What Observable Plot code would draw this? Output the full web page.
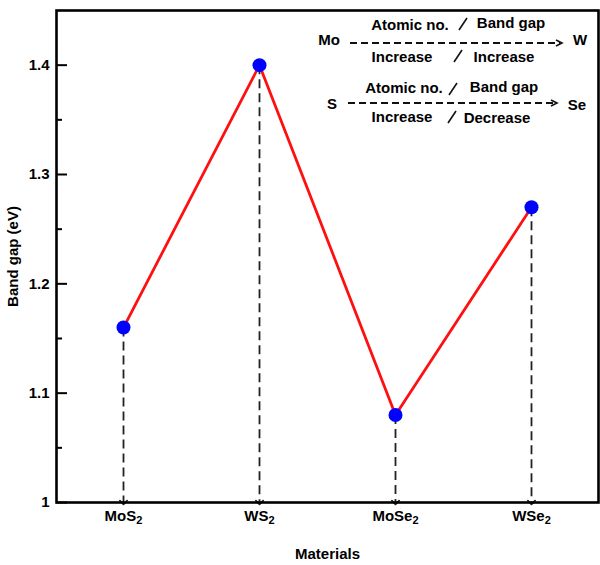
<!DOCTYPE html>
<html><head><meta charset="utf-8">
<script src="https://cdn.jsdelivr.net/npm/d3@7"></script>
<script src="https://cdn.jsdelivr.net/npm/@observablehq/plot@0.6"></script>
<style>
body{margin:0;background:#fff;}
#wrap{position:relative;width:600px;height:565px;}
#ann{position:absolute;left:0;top:0;pointer-events:none;}
</style></head><body><div id="wrap"></div>
<script>
const materials = ["MoS2","WS2","MoSe2","WSe2"];
const bandGap = [1.16,1.40,1.08,1.27];
const baseline = 1.0;
const majorTicks = [1,1.1,1.2,1.3,1.4];
const minorTicks = [1.05,1.15,1.25,1.35];
const yDomain = [1, 1.45];
const data = materials.map((m,i)=>({material:m, gap:bandGap[i]}));

const font = "'Liberation Sans', Arial, sans-serif";
const plot = Plot.plot({
  width:600, height:565, marginLeft:56, marginRight:2, marginTop:10, marginBottom:63,
  style:{fontFamily:font, fontSize:"15px", fontWeight:"bold", color:"#000", background:"#fff", overflow:"visible"},
  x:{type:"point", domain:materials, padding:0.48},
  y:{domain:yDomain},
  marks:[
    Plot.axisY({ticks:majorTicks, tickSize:0, tickPadding:7, tickFormat:d=>String(+d.toFixed(2)), label:"Band gap (eV)", labelAnchor:"center", labelOffset:49, labelArrow:"none"}),
    Plot.axisY({ticks:majorTicks, tickSize:-11, text:null, label:null, strokeWidth:2}),
    Plot.axisY({ticks:minorTicks, tickSize:-6, text:null, label:null, strokeWidth:2}),
    Plot.axisX({tickSize:0, tickPadding:8, label:"Materials", labelAnchor:"center", labelOffset:56, labelArrow:"none"}),
    Plot.link(data, {x1:"material", x2:"material", y1:"gap", y2:()=>baseline, stroke:"#222", strokeWidth:1.8, strokeDasharray:"9,5", markerEnd:"arrow"}),
    Plot.line(data, {x:"material", y:"gap", stroke:"#ff1010", strokeWidth:2.8}),
    Plot.dot(data, {x:"material", y:"gap", r:7, fill:"#0000ff", stroke:"none"}),
    Plot.frame({stroke:"#000", strokeWidth:2.6})
  ]
});
document.getElementById("wrap").appendChild(plot);

// subscripts on x tick labels
d3.select(plot).selectAll("g[aria-label='x-axis tick label'] text").each(function(){
  const t = this.textContent;
  const m = t.match(/^(.*?)(\d+)$/);
  if (!m) return;
  const sel = d3.select(this);
  sel.text(null);
  sel.append("tspan").text(m[1]);
  sel.append("tspan").attr("dy","0.3em").attr("font-size","11px").text(m[2]);
});

// annotation overlay
const ann = d3.select("#wrap").append("svg").attr("id","ann").attr("width",600).attr("height",565)
  .attr("font-family",font).attr("font-weight","bold").attr("font-size",15).attr("fill","#000");
const labels = [
  ["Mo",329,40],["Atomic no.",410,25],["Band gap",511,23],
  ["Increase",402,57],["Increase",504,57],["W",580,40],
  ["Atomic no.",404,88],["Band gap",504,87],["S",332,104],
  ["Se",577,105],["Increase",402,117],["Decrease",497,118]
];
labels.forEach(([t,x,y])=>{
  ann.append("text").attr("x",x).attr("y",y).attr("dy","0.35em").attr("text-anchor","middle").text(t);
});
const slashes = [[463,24],[458,56],[453,89],[452,117]];
slashes.forEach(([x,y])=>{
  ann.append("line").attr("x1",x-4).attr("y1",y+6).attr("x2",x+4).attr("y2",y-6)
    .attr("stroke","#111").attr("stroke-width",1.6);
});
[[350,562,43],[348,557,103]].forEach(([x1,x2,y])=>{
  ann.append("line").attr("x1",x1).attr("x2",x2-2).attr("y1",y).attr("y2",y)
    .attr("stroke","#111").attr("stroke-width",1.8).attr("stroke-dasharray","7,4");
  ann.append("path").attr("d",`M${x2-6},${y-3}L${x2},${y}L${x2-6},${y+3}`)
    .attr("fill","none").attr("stroke","#111").attr("stroke-width",1.6);
});
</script></body></html>
